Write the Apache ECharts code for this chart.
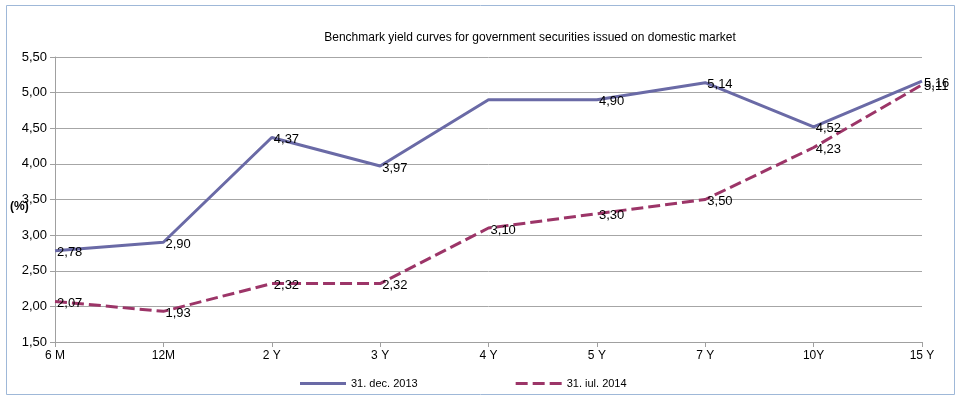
<!DOCTYPE html>
<html>
<head>
<meta charset="utf-8">
<script src="https://cdn.jsdelivr.net/npm/echarts@6/dist/echarts.min.js"></script>
<style>
  html, body { margin: 0; padding: 0; background: #fff; }
  #chart { width: 964px; height: 402px; }
</style>
</head>
<body>
<div id="chart"></div>
<script>
// Maturities on the x axis
const maturities = ['6 M', '12M', '2 Y', '3 Y', '4 Y', '5 Y', '7 Y', '10Y', '15 Y'];
// Yields (%) per maturity
const dec2013 = [2.78, 2.90, 4.37, 3.97, 4.90, 4.90, 5.14, 4.52, 5.16];
const jul2014 = [2.07, 1.93, 2.32, 2.32, 3.10, 3.30, 3.50, 4.23, 5.11];
// Value labels left out where they would collide (4 Y of the Dec 2013 curve)
const decHiddenLabels = ['4 Y'];
const seriesNames = ['31. dec. 2013', '31. iul. 2014'];
const yMin = 1.5, yMax = 5.5, yStep = 0.5;

const fmt = v => Number(v).toFixed(2).replace('.', ',');
const font = 'Liberation Sans, Arial, sans-serif';
const colDec = '#6a6aa6';
const colJul = '#9c3568';

const chart = echarts.init(document.getElementById('chart'));

const labelCfg = {
  show: true,
  position: 'right',
  distance: 2,
  offset: [0, 2],
  color: '#000',
  fontFamily: font,
  fontSize: 13,
  formatter: p => fmt(p.value)
};

const decData = dec2013.map((v, i) =>
  decHiddenLabels.includes(maturities[i]) ? { value: v, label: { show: false } } : v
);

chart.setOption({
  animation: false,
  backgroundColor: '#fff',
  title: {
    text: 'Benchmark yield curves for government securities issued on domestic market',
    left: 525,
    top: 27,
    textAlign: 'center',
    textStyle: { fontFamily: font, fontSize: 12, fontWeight: 'normal', color: '#000' }
  },
  graphic: [
    {
      type: 'rect',
      shape: { x: 6.5, y: 5.5, width: 948, height: 389 },
      style: { fill: 'none', stroke: '#9fb8d8', lineWidth: 1 },
      silent: true
    },
    {
      type: 'text',
      left: 10,
      top: 201,
      style: { text: '(%)', fontFamily: font, fontSize: 12, fontWeight: 'bold', fill: '#000' }
    }
  ],
  grid: { left: 55, right: 42, top: 57, bottom: 60 },
  legend: {
    bottom: 8,
    left: 295,
    itemGap: 98,
    itemWidth: 46,
    itemHeight: 3,
    textStyle: { fontFamily: font, fontSize: 11, color: '#000' },
    data: [
      { name: seriesNames[0], icon: 'rect', itemStyle: { color: colDec } },
      { name: seriesNames[1], icon: 'path://M0,0h12v3h-12z M17,0h12v3h-12z M34,0h12v3h-12z', itemStyle: { color: colJul } }
    ]
  },
  xAxis: {
    type: 'category',
    data: maturities,
    boundaryGap: false,
    axisLine: { lineStyle: { color: '#a0a0a0', width: 1 } },
    axisTick: { alignWithLabel: true, length: 5, lineStyle: { color: '#a0a0a0' } },
    axisLabel: { color: '#000', fontFamily: font, fontSize: 12, margin: 8 },
    splitLine: { show: false }
  },
  yAxis: {
    type: 'value',
    min: yMin,
    max: yMax,
    interval: yStep,
    axisLine: { show: true, lineStyle: { color: '#a0a0a0', width: 1 } },
    axisTick: { show: true, length: 5, lineStyle: { color: '#a0a0a0' } },
    axisLabel: { color: '#000', fontFamily: font, fontSize: 13, margin: 8, formatter: v => fmt(v) },
    splitLine: { lineStyle: { color: '#a6a6a6', width: 1 } }
  },
  series: [
    {
      name: seriesNames[0],
      type: 'line',
      data: decData,
      symbol: 'circle',
      symbolSize: 0.1,
      showSymbol: true,
      lineStyle: { color: colDec, width: 3 },
      itemStyle: { color: colDec },
      label: labelCfg,
      z: 3
    },
    {
      name: seriesNames[1],
      type: 'line',
      data: jul2014,
      symbol: 'circle',
      symbolSize: 0.1,
      showSymbol: true,
      lineStyle: { color: colJul, width: 3, type: [12, 5] },
      itemStyle: { color: colJul },
      label: labelCfg,
      z: 2
    }
  ]
});
</script>
</body>
</html>
